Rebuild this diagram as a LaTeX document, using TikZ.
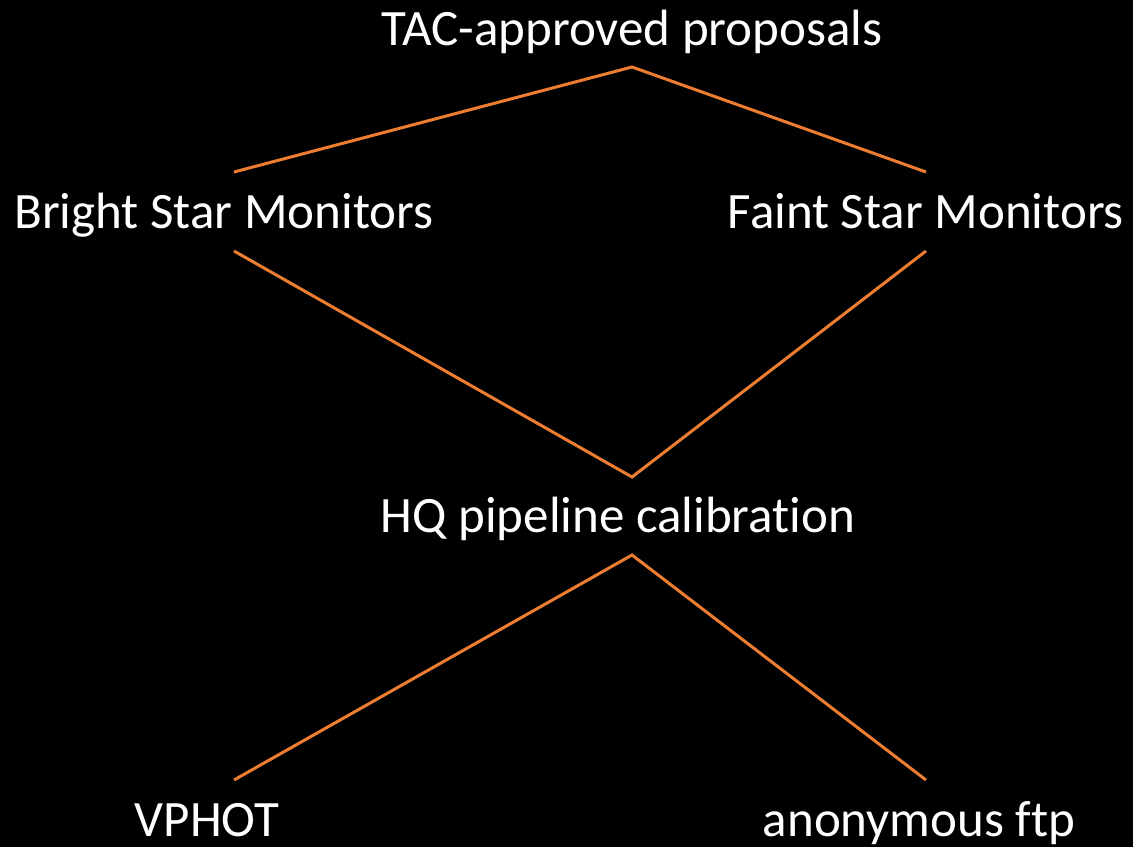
\documentclass[tikz,border=0pt]{standalone}
\usepackage{fontspec}
\setmainfont{Carlito}[Ligatures={NoCommon,NoRare,NoDiscretionary}]
\definecolor{lineor}{RGB}{237,125,49}
\begin{document}
\begin{tikzpicture}[x=1pt,y=-1pt,
  lbl/.style={text=white,font=\fontsize{51}{58}\selectfont,anchor=base,inner sep=0pt},
  conn/.style={draw=lineor,line width=3pt}]
\fill[black] (0,0) rectangle (1133,847);
\useasboundingbox (0,0) rectangle (1133,847);
\node[lbl] (tac) at (632,45) {TAC-approved proposals};
\node[lbl] (bsm) at (224,228) {Bright Star Monitors};
\node[lbl] (fsm) at (926,228) {Faint Star Monitors};
\node[lbl] (hq) at (618,532) {HQ pipeline calibration};
\node[lbl] (vp) at (207,836) {VPHOT};
\node[lbl] (ftp) at (919,836) {anonymous ftp};
\coordinate (t1) at (632,67);
\coordinate (b1) at (234,172);
\coordinate (f1) at (926,172);
\coordinate (b2) at (234,251);
\coordinate (f2) at (926,251);
\coordinate (h1) at (632,477);
\coordinate (h2) at (632,555);
\coordinate (v1) at (234,780);
\coordinate (a1) at (926,780);
\draw[conn] (b1) -- (t1) -- (f1);
\draw[conn] (b2) -- (h1) -- (f2);
\draw[conn] (v1) -- (h2) -- (a1);
\end{tikzpicture}
\end{document}
